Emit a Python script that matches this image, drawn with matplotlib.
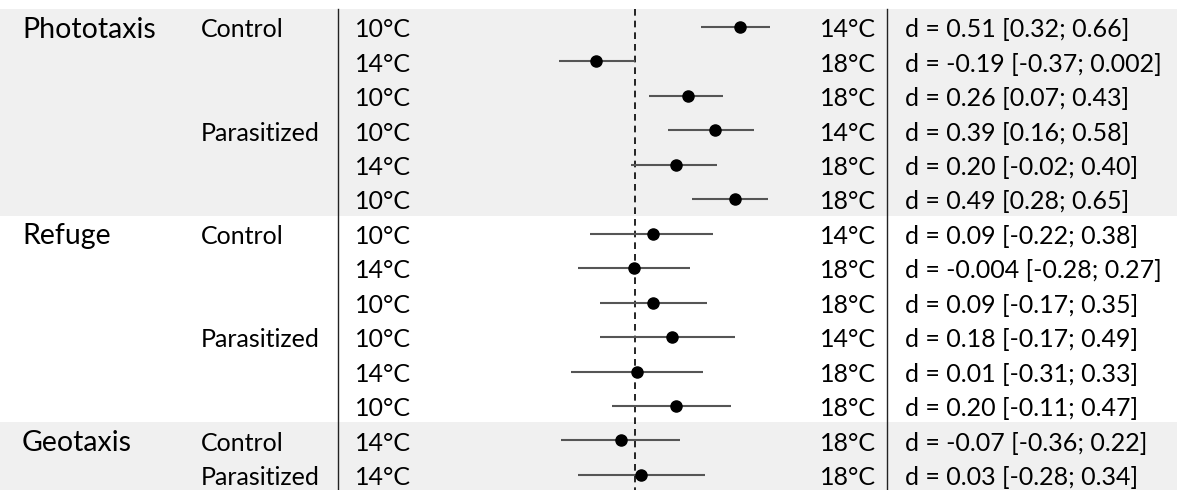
import matplotlib.pyplot as plt
import matplotlib.transforms as mtransforms

plt.rcParams['font.family'] = ['Lato', 'DejaVu Sans']

# ---------------- DATA ----------------
groups = ["Phototaxis", "", "", "", "", "",
          "Refuge", "", "", "", "", "",
          "Geotaxis", ""]
subgroups = ["Control", "", "", "Parasitized", "", "",
             "Control", "", "", "Parasitized", "", "",
             "Control", "Parasitized"]
temp_from = ["10°C", "14°C", "10°C", "10°C", "14°C", "10°C",
             "10°C", "14°C", "10°C", "10°C", "14°C", "10°C",
             "14°C", "14°C"]
temp_to = ["14°C", "18°C", "18°C", "14°C", "18°C", "18°C",
           "14°C", "18°C", "18°C", "14°C", "18°C", "18°C",
           "18°C", "18°C"]
d_est = [0.51, -0.19, 0.26, 0.39, 0.20, 0.49,
         0.09, -0.004, 0.09, 0.18, 0.01, 0.20,
         -0.07, 0.03]
d_low = [0.32, -0.37, 0.07, 0.16, -0.02, 0.28,
         -0.22, -0.28, -0.17, -0.17, -0.31, -0.11,
         -0.36, -0.28]
d_high = [0.66, 0.002, 0.43, 0.58, 0.40, 0.65,
          0.38, 0.27, 0.35, 0.49, 0.33, 0.47,
          0.22, 0.34]
d_labels = ["d = 0.51 [0.32; 0.66]", "d = -0.19 [-0.37; 0.002]",
            "d = 0.26 [0.07; 0.43]", "d = 0.39 [0.16; 0.58]",
            "d = 0.20 [-0.02; 0.40]", "d = 0.49 [0.28; 0.65]",
            "d = 0.09 [-0.22; 0.38]", "d = -0.004 [-0.28; 0.27]",
            "d = 0.09 [-0.17; 0.35]", "d = 0.18 [-0.17; 0.49]",
            "d = 0.01 [-0.31; 0.33]", "d = 0.20 [-0.11; 0.47]",
            "d = -0.07 [-0.36; 0.22]", "d = 0.03 [-0.28; 0.34]"]
# shaded blocks (first row, last row)
shaded = [(0, 5), (12, 13)]
# --------------------------------------

W, H = 1177, 490
fig = plt.figure(figsize=(W / 100, H / 100), dpi=100)
ax = fig.add_axes([0, 0, 1, 1])
ax.axis("off")

# x: d units (0 at px 635, ~205 px per unit); y: row index
px_per_d = 205
ax.set_xlim(-635 / px_per_d, (W - 635) / px_per_d)
row_h = 34.45
ax.set_ylim((H - 27) / row_h, -27 / row_h)

n = len(d_est)
rows = list(range(n))
bottom = (H - 27) / row_h

for r0, r1 in shaded:
    r1_edge = r1 + 0.5 if r1 < n - 1 else bottom
    ax.axhspan(r0 - 0.52, r1_edge, color="#f0f0f0", zorder=0, lw=0)

# column divider lines
trans = mtransforms.blended_transform_factory(ax.transAxes, ax.transData)
for xf in (338 / W, 887 / W):
    ax.plot([xf, xf], [-0.52, bottom], color="#222222", lw=1.0,
            transform=trans, zorder=1)

# null line
ax.plot([0, 0], [-0.52, bottom], color="black", lw=1.2,
        ls=(0, (4, 3)), zorder=1)

# CI and estimates
ax.hlines(rows, d_low, d_high, color="#555555", lw=1.5, zorder=2)
ax.plot(d_est, rows, "o", color="black", ms=8, zorder=3)

fs = 18
for i in rows:
    if groups[i]:
        ax.text(22 / W, i, groups[i], transform=trans, fontsize=20.5,
                va="center_baseline", ha="left")
    if subgroups[i]:
        ax.text(201 / W, i + 0.02, subgroups[i], transform=trans, fontsize=fs,
                va="center_baseline", ha="left")
    ax.text(355 / W, i + 0.02, temp_from[i], transform=trans, fontsize=fs,
            va="center_baseline", ha="left")
    ax.text(876 / W, i + 0.02, temp_to[i], transform=trans, fontsize=fs,
            va="center_baseline", ha="right")
    ax.text(905 / W, i + 0.02, d_labels[i], transform=trans, fontsize=fs,
            va="center_baseline", ha="left")

fig.savefig("out.png", dpi=100, facecolor="white")
